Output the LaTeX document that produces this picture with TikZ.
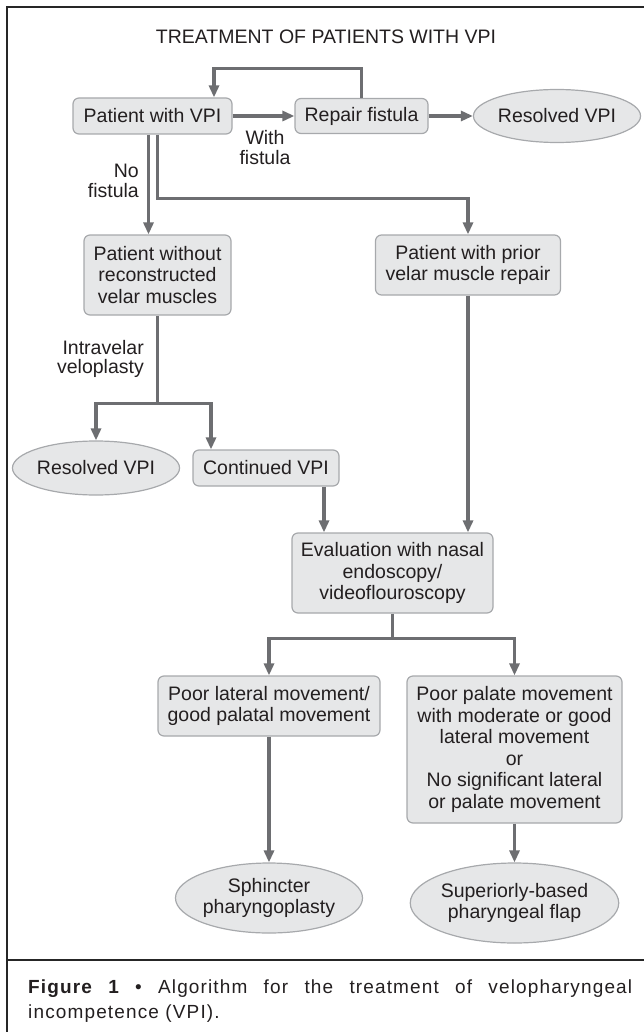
\documentclass[tikz,border=0pt]{standalone}
\usepackage{fontspec}
\setmainfont{Liberation Sans}
\newfontfamily\capfont[LetterSpace=6]{Liberation Sans}
\usetikzlibrary{arrows.meta,shapes.geometric}

\definecolor{boxfill}{HTML}{E6E7E8}
\definecolor{boxline}{HTML}{A7A9AC}
\definecolor{flowgray}{HTML}{6D6E71}
\definecolor{inkgray}{HTML}{231F20}

\begin{document}
\begin{tikzpicture}[
        x=1pt, y=-1pt,
        every node/.style={font=\fontsize{19.5}{21.6}\selectfont, text=inkgray},
        stepbox/.style={draw=boxline, fill=boxfill, line width=1.2pt, rounded corners=6pt, align=center, inner sep=0pt},
        endbox/.style={ellipse, draw=boxline, fill=boxfill, line width=1.2pt, align=center, inner sep=0pt},
        flow/.style={draw=flowgray, line width=3.2pt},
        arrow/.style={flow, -{Triangle[length=12pt,width=10pt]}},
        note/.style={align=right, anchor=east, inner sep=0pt, font=\fontsize{19.5}{19.5}\selectfont}
        ]
        \useasboundingbox (0,0) rectangle (644,1032);

        \node (title) at (326,37) {TREATMENT OF PATIENTS WITH VPI};

        \node[stepbox, minimum width=159pt, minimum height=36pt] (pvpi) at (152.5,116) {Patient with VPI};
        \node[stepbox, minimum width=133pt, minimum height=35pt] (repair) at (361.5,116) {Repair fistula};
        \node[endbox, minimum width=148pt, minimum height=53pt] (res1) at (557,116) {Resolved VPI};

        \node[stepbox, minimum width=147pt, minimum height=80pt] (nomus) at (157.5,275) {Patient without\\reconstructed\\velar muscles};
        \node[stepbox, minimum width=185pt, minimum height=60pt] (prior) at (468,265) {Patient with prior\\velar muscle repair};

        \node[endbox, minimum width=147pt, minimum height=54pt] (res2) at (96,468) {Resolved VPI};
        \node[stepbox, minimum width=146pt, minimum height=36pt] (cont) at (266,468) {Continued VPI};

        \node[stepbox, minimum width=201pt, minimum height=80pt] (eval) at (392.5,573) {Evaluation with nasal\\endoscopy/\\videoflouroscopy};

        \node[stepbox, minimum width=222pt, minimum height=60pt] (lateral) at (269,706) {Poor lateral movement/\\good palatal movement};
        \node[stepbox, minimum width=215pt, minimum height=147pt] (palate) at (514.5,749.5) {Poor palate movement\\with moderate or good\\lateral movement\\or\\No significant lateral\\or palate movement};

        \node[endbox, minimum width=172pt, minimum height=70pt] (sphinc) at (269,898) {Sphincter\\pharyngoplasty};
        \node[endbox, minimum width=184pt, minimum height=80pt] (superior) at (514.5,903) {Superiorly-based\\pharyngeal flap};

        % branch labels
        \node[align=center, font=\fontsize{19.5}{20}\selectfont] (withf) at (265,148) {With\\fistula};
        \node[note] (nofist) at (139,181) {No\\fistula};
        \node[note] (intra) at (144,359) {Intravelar\\veloplasty};

        % connectors
        \draw[arrow] (repair.north) -- ++(0,-29) -| ([xshift=61.5pt]pvpi.north);
        \draw[arrow] (pvpi) -- (repair);
        \draw[arrow] (repair) -- (res1);
        \draw[arrow] ([xshift=-4pt]pvpi.south) -- ([xshift=-4pt]pvpi.south |- nomus.north);
        \draw[arrow] ([xshift=5pt]pvpi.south) |- ([yshift=36pt]prior.north) -- (prior.north);

        \draw[flow] (nomus.south) -- ++(0,88) coordinate (split1);
        \draw[arrow] (split1) -| (res2.north);
        \draw[arrow] (split1) -| ([xshift=-55pt]cont.north);

        \draw[arrow] ([xshift=58pt]cont.south) -- ([xshift=58pt]cont.south |- eval.north);
        \draw[arrow] (prior.south) -- (prior.south |- eval.north);

        \draw[flow] (eval.south) -- ++(0,25) coordinate (split2);
        \foreach \t in {lateral,palate} {
            \draw[arrow] (split2) -| (\t.north);
        }
        \draw[arrow] (lateral) -- (sphinc);
        \draw[arrow] (palate) -- (superior);

        % frame and caption
        \draw[line width=1.3pt, black!85] (644,7) -- (7,7) -- (7,1032);
        \draw[line width=1.3pt, black!85] (7,960) -- (644,960);
        \node[anchor=north west, text width=604pt, align=justify, inner sep=0pt,
              font=\capfont\fontsize{19}{25}\selectfont] (caption) at (28,980)
            {{\bfseries Figure 1} \textbullet{} Algorithm for the treatment of velopharyngeal \mbox{incompetence} (VPI).};
\end{tikzpicture}
\end{document}
